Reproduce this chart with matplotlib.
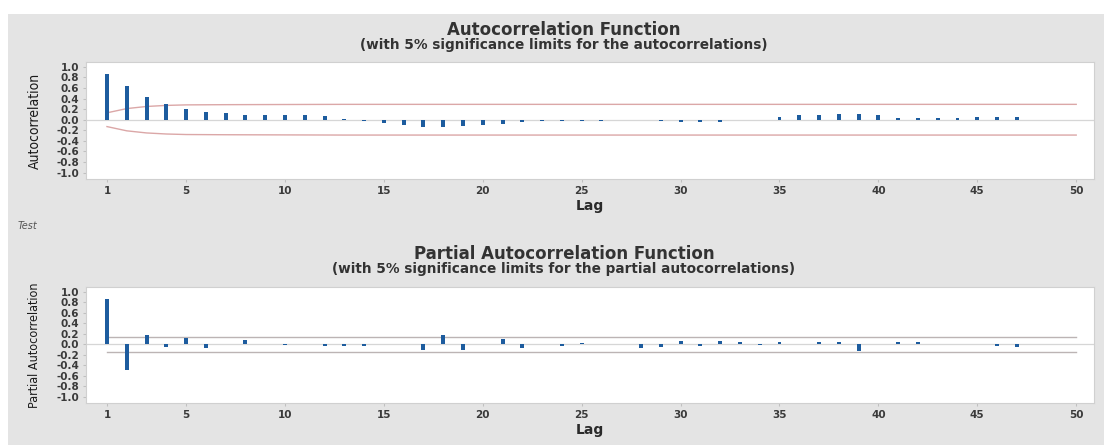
import matplotlib
matplotlib.use("Agg")
import matplotlib.pyplot as plt
from matplotlib.patches import Rectangle

plt.rcParams['axes.unicode_minus'] = False

# lags and estimated correlations
lags = list(range(1, 51))

acf = [0.87, 0.63, 0.43, 0.29, 0.20, 0.155, 0.12, 0.09, 0.09, 0.09,
       0.09, 0.07, 0.02, -0.02, -0.07, -0.10, -0.14, -0.14, -0.12, -0.10,
       -0.08, -0.045, -0.015, -0.015, -0.03, -0.03, -0.01, 0.0, -0.03, -0.05,
       -0.05, -0.04, 0.0, -0.01, 0.05, 0.08, 0.08, 0.10, 0.10, 0.08,
       0.04, 0.04, 0.04, 0.04, 0.06, 0.06, 0.05, 0.0, 0.0, -0.01]

# 5% significance limit (upper; lower is the mirror)
acf_limit = [0.13, 0.21, 0.25, 0.27, 0.28, 0.282, 0.284, 0.285, 0.286, 0.287,
             0.288, 0.289, 0.29, 0.29, 0.29, 0.29, 0.29, 0.29, 0.29, 0.29,
             0.29, 0.29, 0.29, 0.29, 0.29, 0.29, 0.29, 0.29, 0.29, 0.29,
             0.29, 0.29, 0.29, 0.29, 0.29, 0.29, 0.29, 0.29, 0.29, 0.29,
             0.29, 0.29, 0.29, 0.29, 0.29, 0.29, 0.29, 0.29, 0.29, 0.29]

pacf = [0.87, -0.50, 0.18, -0.05, 0.11, -0.08, 0.0, 0.08, 0.0, -0.02,
        0.0, -0.03, -0.04, -0.04, 0.0, 0.0, -0.11, 0.17, -0.11, 0.0,
        0.10, -0.08, 0.0, -0.025, 0.03, 0.012, 0.0, -0.08, -0.06, 0.07,
        -0.04, 0.06, 0.04, -0.01, 0.04, 0.0, 0.04, 0.04, -0.13, 0.0,
        0.04, 0.04, 0.01, 0.0, 0.0, -0.04, -0.06, 0.01, 0.0, 0.0]

pacf_limit = 0.14

xticks = [1, 5, 10, 15, 20, 25, 30, 35, 40, 45, 50]
yticks = [-1.0, -0.8, -0.6, -0.4, -0.2, 0.0, 0.2, 0.4, 0.6, 0.8, 1.0]

W, H = 1104, 445
BAR = '#1d5c9e'
BG = '#e4e4e4'
TXT = '#3a3a3a'
FONT = 'DejaVu Sans'

fig = plt.figure(figsize=(W / 100, H / 100), dpi=100, facecolor='white')
fig.patches.append(Rectangle((8 / W, 0), 1, 1 - 14 / H, transform=fig.transFigure,
                             facecolor=BG, edgecolor='none', zorder=-10))


def setup_axes(ax, ylabel, ylabel_size):
    ax.set_facecolor('white')
    ax.set_xlim(-0.06, 50.9)
    ax.set_ylim(-1.12, 1.09)
    ax.set_xticks(xticks)
    ax.set_yticks(yticks)
    ax.set_yticklabels(['%.1f' % v for v in yticks])
    for s in ax.spines.values():
        s.set_color('#d0d0d0')
        s.set_linewidth(0.8)
    ax.tick_params(axis='both', colors='#c0c0c0', length=2.5, width=0.8)
    ax.tick_params(axis='x', pad=2.5)
    ax.tick_params(axis='y', pad=2.5)
    for lab in ax.get_xticklabels() + ax.get_yticklabels():
        lab.set_color(TXT)
        lab.set_family(FONT)
        lab.set_weight('bold')
        lab.set_fontsize(7.5)
    ax.axhline(0, color='#d6d6d6', linewidth=0.9, zorder=1)
    ax.text(-0.051, 0.5, ylabel, transform=ax.transAxes, rotation=90,
            ha='center', va='center', fontsize=ylabel_size, color='#1a1a1a',
            family=FONT, stretch='condensed')
    ax.text(0.5, -0.235, 'Lag', transform=ax.transAxes, ha='center', va='center',
            fontsize=10, weight='bold', color='#2a2a2a', family=FONT)


# autocorrelation panel
ax1 = fig.add_axes([86 / W, 1 - 179 / H, 1008 / W, 117 / H])
setup_axes(ax1, 'Autocorrelation', 10)
ax1.plot(lags, acf_limit, color='#dba7a7', linewidth=1.0, zorder=2)
ax1.plot(lags, [-v for v in acf_limit], color='#dba7a7', linewidth=1.0, zorder=2)
ax1.bar(lags, acf, width=0.2, color=BAR, zorder=3)

# partial autocorrelation panel
ax2 = fig.add_axes([86 / W, 1 - 403 / H, 1008 / W, 116 / H])
setup_axes(ax2, 'Partial Autocorrelation', 9)
ax2.plot([lags[0], lags[-1]], [pacf_limit, pacf_limit], color='#bcb4b4', linewidth=1.0, zorder=2)
ax2.plot([lags[0], lags[-1]], [-pacf_limit, -pacf_limit], color='#bcb4b4', linewidth=1.0, zorder=2)
ax2.bar(lags, pacf, width=0.2, color=BAR, zorder=3)

# titles
cx = 564 / W
title_kw = dict(ha='center', va='center', color='#333333', family=FONT, weight='bold')
fig.text(cx, 1 - 30 / H, 'Autocorrelation Function', fontsize=12, **title_kw)
fig.text(cx, 1 - 45.5 / H, '(with 5% significance limits for the autocorrelations)',
         fontsize=9.8, **title_kw)
fig.text(cx, 1 - 254 / H, 'Partial Autocorrelation Function', fontsize=12, **title_kw)
fig.text(cx, 1 - 269.5 / H, '(with 5% significance limits for the partial autocorrelations)',
         fontsize=9.8, **title_kw)

fig.text(18 / W, 1 - 226 / H, 'Test', ha='left', va='center', fontsize=7,
         style='italic', color='#555555', family=FONT)

fig.savefig('out.png', dpi=100, facecolor=fig.get_facecolor())
